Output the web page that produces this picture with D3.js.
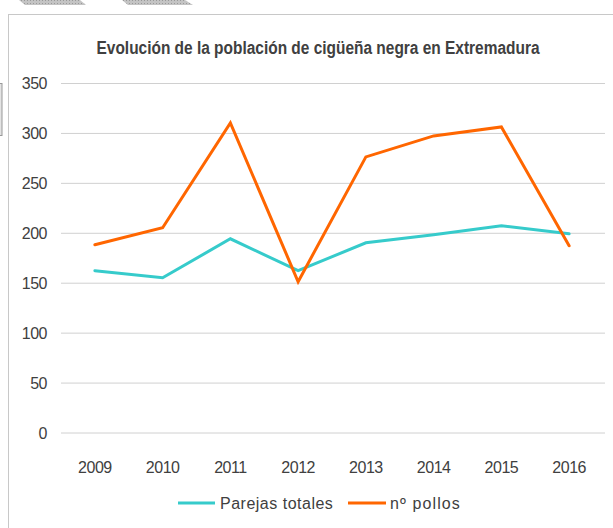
<!DOCTYPE html>
<html>
<head>
<meta charset="utf-8">
<script src="https://cdn.jsdelivr.net/npm/d3@7"></script>
<style>
  html, body { margin: 0; padding: 0; background: #fff; }
  svg { display: block; }
  text { font-family: "Liberation Sans", Arial, sans-serif; }
</style>
</head>
<body>
<svg id="chart" width="613" height="528"></svg>
<script>
const title = "Evolución de la población de cigüeña negra en Extremadura";
const years = ["2009", "2010", "2011", "2012", "2013", "2014", "2015", "2016"];
const parejas = [162, 155, 194, 162, 190, 198, 207, 199];
const pollos = [188, 205, 310, 151, 276, 297, 306, 187];
const yTicks = [0, 50, 100, 150, 200, 250, 300, 350];
const seriesNames = ["Parejas totales", "nº pollos"];
const seriesColors = ["#36CBCB", "#FF6600"];

const svg = d3.select("#chart");

// decorative background fragments
const defs = svg.append("defs");
const pat = defs.append("pattern").attr("id", "hatch").attr("width", 3).attr("height", 3)
  .attr("patternUnits", "userSpaceOnUse");
pat.append("rect").attr("width", 3).attr("height", 3).attr("fill", "#c4c4c4");
pat.append("rect").attr("width", 1).attr("height", 1).attr("fill", "#9a9a9a");
svg.append("polygon").attr("points", "19,0 80,0 86,5 25,5").attr("fill", "url(#hatch)");
svg.append("polygon").attr("points", "122,0 185,0 193,5 128,5").attr("fill", "url(#hatch)");
svg.append("rect").attr("x", -2).attr("y", 83.5).attr("width", 4).attr("height", 52)
  .attr("fill", "#e4e4e4").attr("stroke", "#999");

// chart frame
svg.append("rect").attr("x", 8.5).attr("y", 14.5).attr("width", 700).attr("height", 600)
  .attr("fill", "#fff").attr("stroke", "#c8c8c8").attr("stroke-width", 1);

// title
svg.append("text").attr("x", 318).attr("y", 54).attr("text-anchor", "middle")
  .attr("font-size", 18).attr("font-weight", "bold").attr("fill", "#404040")
  .attr("textLength", 443).attr("lengthAdjust", "spacingAndGlyphs")
  .text(title);

const plotLeft = 61, plotRight = 603;
const x = d3.scaleBand().domain(years).range([plotLeft, plotRight]);
const y = d3.scaleLinear().domain([0, 350]).range([432.5, 83]);

// gridlines + y labels
const yAxis = d3.axisLeft(y).tickValues(yTicks).tickSize(0).tickPadding(14);
const yg = svg.append("g").attr("transform", `translate(${plotLeft},0)`).call(yAxis);
yg.select(".domain").remove();
yg.selectAll("text").attr("font-size", 16).attr("fill", "#404040")
  .attr("letter-spacing", -0.5)
  .attr("font-family", "Liberation Sans, Arial, sans-serif").attr("x", -14).attr("dy", "0.36em");
yg.selectAll(".tick").append("line")
  .attr("x1", 0).attr("x2", 605 - plotLeft)
  .attr("stroke", "#d0d0d0").attr("stroke-width", 1);

// x axis labels
const xAxis = d3.axisBottom(x).tickSize(0).tickPadding(0);
const xg = svg.append("g").attr("transform", `translate(0,${y(0)})`).call(xAxis);
xg.select(".domain").remove();
xg.selectAll("text").attr("font-size", 16).attr("fill", "#404040")
  .attr("letter-spacing", -0.5)
  .attr("font-family", "Liberation Sans, Arial, sans-serif").attr("y", 40).attr("dy", 0);

// lines
const line = d3.line().x((d, i) => x(years[i]) + x.bandwidth() / 2).y(d => y(d));
[parejas, pollos].forEach((vals, k) => {
  svg.append("path").datum(vals).attr("d", line)
    .attr("fill", "none").attr("stroke", seriesColors[k]).attr("stroke-width", 3)
    .attr("stroke-linejoin", "miter").attr("stroke-linecap", "round");
});

// legend
const legendItems = [
  {x1: 178, x2: 215, tx: 220, ls: 0.5},
  {x1: 348, x2: 386, tx: 390, ls: 1.1}
];
legendItems.forEach((p, k) => {
  svg.append("line").attr("x1", p.x1).attr("x2", p.x2).attr("y1", 503).attr("y2", 503)
    .attr("stroke", seriesColors[k]).attr("stroke-width", 3);
  svg.append("text").attr("x", p.tx).attr("y", 509).attr("font-size", 16)
    .attr("fill", "#404040").attr("letter-spacing", p.ls)
    .text(seriesNames[k]);
});
</script>
</body>
</html>
